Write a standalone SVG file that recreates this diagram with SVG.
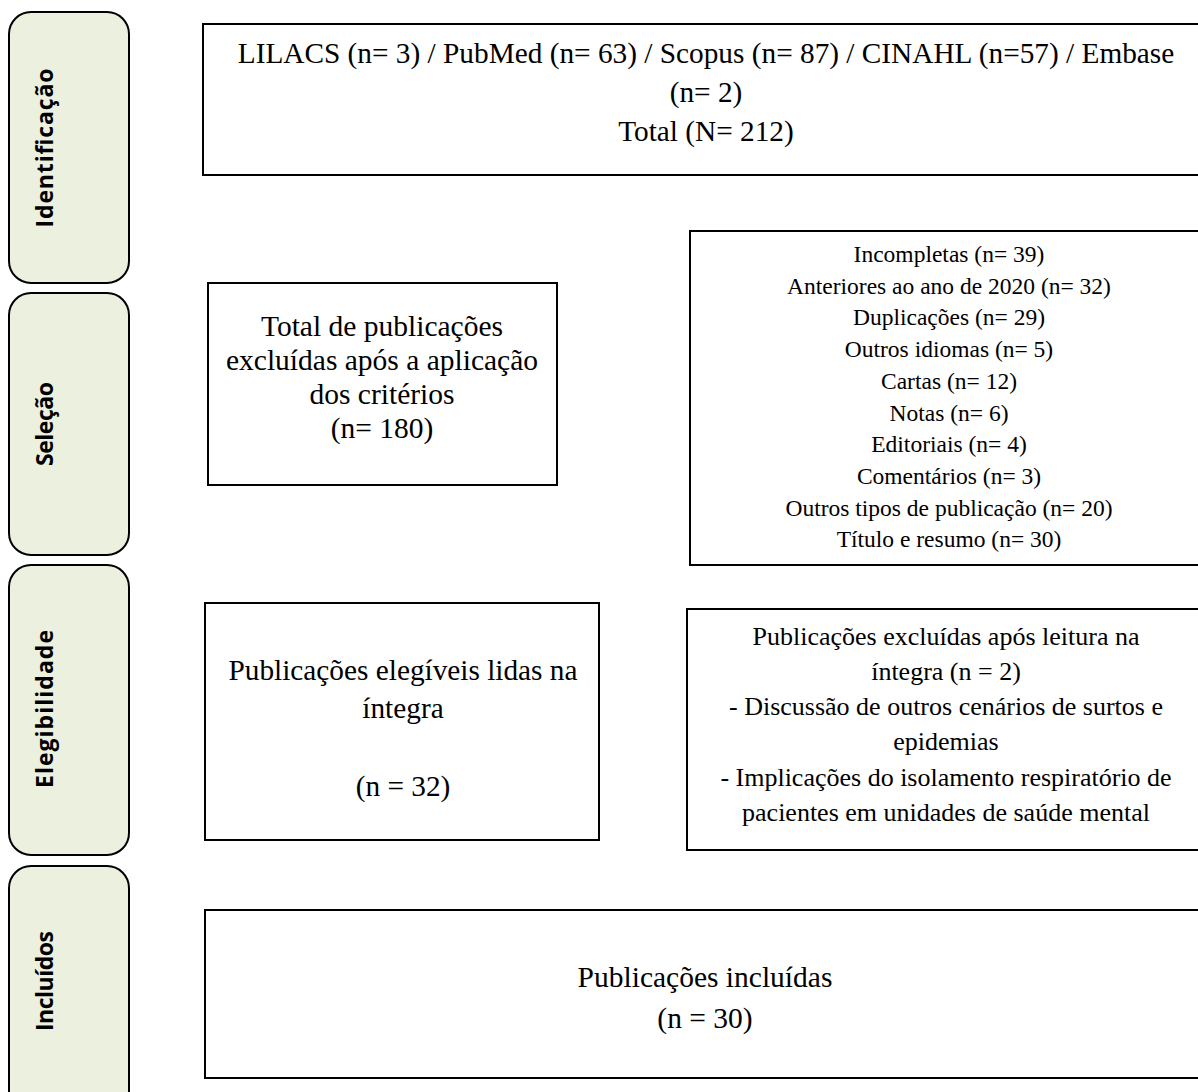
<svg xmlns="http://www.w3.org/2000/svg" width="1198" height="1092" viewBox="0 0 1198 1092">
<style>
.panel{fill:#EBF1DE;stroke:#000;stroke-width:2}
.box{fill:#fff;stroke:#000;stroke-width:2}
.lbl{font-family:"Open Sans","Liberation Sans",sans-serif;font-weight:bold;font-size:23px;fill:#000;text-anchor:middle}
.t{font-family:"Liberation Serif","Times New Roman",serif;fill:#000;text-anchor:middle}
</style>
<rect width="1198" height="1092" fill="#fff"/>
<g id="panel-identificacao">
<rect class="panel" x="9" y="12" width="120" height="271" rx="22"/>
<text class="lbl" transform="translate(53,148) rotate(-90)" textLength="159" lengthAdjust="spacing">Identificação</text>
</g>
<g id="panel-selecao">
<rect class="panel" x="9" y="293" width="120" height="262" rx="22"/>
<text class="lbl" transform="translate(53,424) rotate(-90)" textLength="84" lengthAdjust="spacing">Seleção</text>
</g>
<g id="panel-elegibilidade">
<rect class="panel" x="9" y="565" width="120" height="290" rx="22"/>
<text class="lbl" transform="translate(53,709) rotate(-90)" textLength="158" lengthAdjust="spacing">Elegibilidade</text>
</g>
<g id="panel-incluidos">
<rect class="panel" x="9" y="866" width="120" height="250" rx="22"/>
<text class="lbl" transform="translate(53,981) rotate(-90)" textLength="100" lengthAdjust="spacing">Incluídos</text>
</g>
<g id="box-identificacao">
<rect class="box" x="203" y="24" width="1010" height="151"/>
<text class="t" font-size="29.3" x="706" y="63">LILACS (n= 3) / PubMed (n= 63) / Scopus (n= 87) / CINAHL (n=57) / Embase</text>
<text class="t" font-size="29.3" x="706" y="102">(n= 2)</text>
<text class="t" font-size="29.3" x="706" y="141">Total (N= 212)</text>
</g>
<g id="box-selecao-total">
<rect class="box" x="208" y="283" width="349" height="202"/>
<text class="t" font-size="29.5" x="382" y="336">Total de publicações</text>
<text class="t" font-size="29.5" x="382" y="370">excluídas após a aplicação</text>
<text class="t" font-size="29.5" x="382" y="404">dos critérios</text>
<text class="t" font-size="29.5" x="382" y="438">(n= 180)</text>
</g>
<g id="box-selecao-motivos">
<rect class="box" x="690" y="231" width="520" height="334"/>
<text class="t" font-size="23.5" x="949" y="262">Incompletas (n= 39)</text>
<text class="t" font-size="23.5" x="949" y="293.7">Anteriores ao ano de 2020 (n= 32)</text>
<text class="t" font-size="23.5" x="949" y="325.4">Duplicações (n= 29)</text>
<text class="t" font-size="23.5" x="949" y="357.1">Outros idiomas (n= 5)</text>
<text class="t" font-size="23.5" x="949" y="388.8">Cartas (n= 12)</text>
<text class="t" font-size="23.5" x="949" y="420.5">Notas (n= 6)</text>
<text class="t" font-size="23.5" x="949" y="452.2">Editoriais (n= 4)</text>
<text class="t" font-size="23.5" x="949" y="483.9">Comentários (n= 3)</text>
<text class="t" font-size="23.5" x="949" y="515.6">Outros tipos de publicação (n= 20)</text>
<text class="t" font-size="23.5" x="949" y="547.3">Título e resumo (n= 30)</text>
</g>
<g id="box-elegiveis">
<rect class="box" x="205" y="603" width="394" height="237"/>
<text class="t" font-size="29.3" x="403" y="680">Publicações elegíveis lidas na</text>
<text class="t" font-size="29.3" x="403" y="718">íntegra</text>
<text class="t" font-size="29.3" x="403" y="796">(n = 32)</text>
</g>
<g id="box-excluidas-integra">
<rect class="box" x="687" y="609" width="520" height="241"/>
<text class="t" font-size="26" x="946" y="645">Publicações excluídas após leitura na</text>
<text class="t" font-size="26" x="946" y="680">íntegra (n = 2)</text>
<text class="t" font-size="26" x="946" y="715">- Discussão de outros cenários de surtos e</text>
<text class="t" font-size="26" x="946" y="750">epidemias</text>
<text class="t" font-size="26" x="946" y="786">- Implicações do isolamento respiratório de</text>
<text class="t" font-size="26" x="946" y="821">pacientes em unidades de saúde mental</text>
</g>
<g id="box-incluidos">
<rect class="box" x="205" y="910" width="1005" height="168"/>
<text class="t" font-size="29.5" x="705" y="987">Publicações incluídas</text>
<text class="t" font-size="29.5" x="705" y="1028">(n = 30)</text>
</g>
<g id="connectors"></g>
</svg>
